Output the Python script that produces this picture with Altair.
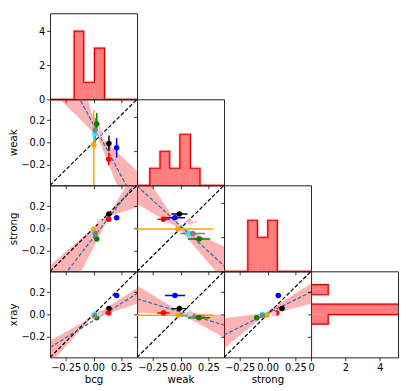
import altair as alt
import pandas as pd

W = 89
H = 88
D = [-0.39, 0.39]
CMAX = [0, 5.05]

# ---------------- points ----------------
colors = ["black", "#0000ff", "#ff0000", "#008000", "#ffa500", "#00ffff", "#808080", "#ffc0cb"]
bcg = [0.138, 0.207, 0.136, 0.029, 0.003, 0.012, 0.016, 0.056]
weak = [-0.010, -0.050, -0.153, 0.166, -0.024, 0.078, 0.110, 0.089]
weak_err_lo = [0.072, 0.090, 0.055, 0.100, 0.450, 0.050, 0.110, 0.060]
weak_err_hi = [0.072, 0.090, 0.055, 0.100, 0.315, 0.050, 0.110, 0.060]
strong = [0.130, 0.096, 0.083, -0.097, -0.006, -0.047, -0.046, 0.057]
xray = [0.052, 0.170, 0.012, -0.030, -0.009, 0.000, -0.014, 0.006]

# ---------------- histograms ----------------
hist_bcg_edges = [-0.174, -0.088, 0.008, 0.099]
hist_bcg_counts = [4, 1, 3]
hist_weak_edges = [-0.276, -0.184, -0.097, -0.006, 0.089, 0.175]
hist_weak_counts = [1, 2, 1, 3, 1]
hist_strong_edges = [-0.177, -0.090, 0.002, 0.088]
hist_strong_counts = [3, 2, 3]
hist_xray_edges = [-0.088, -0.003, 0.092, 0.178, 0.269]
hist_xray_counts = [1, 6, 0, 1]

# ---------------- fitted lines (y at left and right panel edge) ----------------
fit_bcg_weak = [0.89, -0.57]
fit_bcg_strong = [-0.59, 0.425]
fit_bcg_xray = [-0.30, 0.188]
fit_weak_strong = [0.385, -0.34]
fit_weak_xray = [0.141, -0.097]
fit_strong_xray = [-0.187, 0.203]

# ---------------- confidence bands (x, lower, upper) ----------------
band_bcg_weak_x = [-0.39, 0.036, 0.39]
band_bcg_weak_lo = [0.48, 0.05, -0.84]
band_bcg_weak_hi = [1.59, 0.08, -0.26]
band_bcg_strong_x = [-0.39, 0.14, 0.39]
band_bcg_strong_lo = [-0.95, 0.11, 0.19]
band_bcg_strong_hi = [-0.336, 0.13, 0.545]
band_bcg_xray_x = [-0.39, -0.03, 0.39]
band_bcg_xray_lo = [-0.45, -0.045, 0.095]
band_bcg_xray_hi = [-0.24, -0.035, 0.24]
band_weak_strong_x = [-0.39, -0.015, 0.39]
band_weak_strong_lo = [0.22, 0.0, -0.478]
band_weak_strong_hi = [0.584, 0.025, -0.164]
band_weak_xray_x = [-0.39, 0.02, 0.39]
band_weak_xray_lo = [0.017, -0.005, -0.21]
band_weak_xray_hi = [0.262, 0.01, -0.005]
band_strong_xray_x = [-0.39, -0.03, 0.39]
band_strong_xray_lo = [-0.31, -0.01, 0.094]
band_strong_xray_hi = [-0.035, 0.01, 0.28]

vals = {"bcg": bcg, "weak": weak, "strong": strong, "xray": xray}
fits = {
    ("bcg", "weak"): fit_bcg_weak,
    ("bcg", "strong"): fit_bcg_strong,
    ("bcg", "xray"): fit_bcg_xray,
    ("weak", "strong"): fit_weak_strong,
    ("weak", "xray"): fit_weak_xray,
    ("strong", "xray"): fit_strong_xray,
}
bands = {
    ("bcg", "weak"): (band_bcg_weak_x, band_bcg_weak_lo, band_bcg_weak_hi),
    ("bcg", "strong"): (band_bcg_strong_x, band_bcg_strong_lo, band_bcg_strong_hi),
    ("bcg", "xray"): (band_bcg_xray_x, band_bcg_xray_lo, band_bcg_xray_hi),
    ("weak", "strong"): (band_weak_strong_x, band_weak_strong_lo, band_weak_strong_hi),
    ("weak", "xray"): (band_weak_xray_x, band_weak_xray_lo, band_weak_xray_hi),
    ("strong", "xray"): (band_strong_xray_x, band_strong_xray_lo, band_strong_xray_hi),
}
hists = {
    "bcg": (hist_bcg_edges, hist_bcg_counts),
    "weak": (hist_weak_edges, hist_weak_counts),
    "strong": (hist_strong_edges, hist_strong_counts),
    "xray": (hist_xray_edges, hist_xray_counts),
}
order = ["bcg", "weak", "strong", "xray"]


def sc(dom):
    return alt.Scale(domain=dom, nice=False, zero=False)


def make_axis(kind, show, title, orient):
    if kind == "count":
        v, fmt = [0, 2, 4], "d"
    elif orient == "bottom":
        v, fmt = [-0.25, 0.0, 0.25], ".2f"
    else:
        v, fmt = [-0.2, 0.0, 0.2], ".1f"
    if show and title:
        return alt.Axis(values=v, format=fmt, labels=show, labelOverlap=False,
                        labelFlush=False, title=title)
    return alt.Axis(values=v, format=fmt, labels=show, labelOverlap=False,
                    labelFlush=False, title=None)


def scatter(xv, yv, show_x, show_y):
    def X(f):
        return alt.X(f"{f}:Q", scale=sc(D), axis=make_axis("v", show_x, xv, "bottom"))

    def Y(f):
        return alt.Y(f"{f}:Q", scale=sc(D), axis=make_axis("v", show_y, yv, "left"))

    bx, blo, bhi = bands[(xv, yv)]
    band = alt.Chart(pd.DataFrame({"x": bx, "lo": blo, "hi": bhi})).mark_area(
        color="red", opacity=0.3, clip=True
    ).encode(x=X("x"), y=Y("lo"), y2="hi:Q")
    ident = alt.Chart(pd.DataFrame({"x": D, "y": D})).mark_line(
        color="black", strokeDash=[4, 2], strokeWidth=1.2, clip=True
    ).encode(x=X("x"), y=Y("y"))
    fit = alt.Chart(pd.DataFrame({"x": D, "y": fits[(xv, yv)]})).mark_line(
        color="#1f77b4", strokeDash=[4, 2], strokeWidth=1.3, clip=True
    ).encode(x=X("x"), y=Y("y"))
    lo = [w - e for w, e in zip(weak, weak_err_lo)]
    hi = [w + e for w, e in zip(weak, weak_err_hi)]
    pdf = pd.DataFrame({"x": vals[xv], "y": vals[yv], "c": colors, "lo": lo, "hi": hi})
    layers = [band, ident, fit]
    col = alt.Color("c:N", scale=None)
    if xv == "weak":
        layers.append(alt.Chart(pdf).mark_rule(strokeWidth=1.5, clip=True).encode(
            x=X("lo"), x2="hi:Q", y=Y("y"), color=col))
    if yv == "weak":
        layers.append(alt.Chart(pdf).mark_rule(strokeWidth=1.5, clip=True).encode(
            y=Y("lo"), y2="hi:Q", x=X("x"), color=col))
    layers.append(alt.Chart(pdf).mark_circle(size=32, opacity=1).encode(
        x=X("x"), y=Y("y"), color=col))
    return alt.layer(*layers).properties(width=W, height=H)


def hist_v(var, show_y):
    edges, counts = hists[var]
    rdf = pd.DataFrame({"x": edges[:-1], "x2": edges[1:], "c": counts, "z": [0] * len(counts)})
    xs = [D[0], edges[0]]
    ys = [0, 0]
    for i, c in enumerate(counts):
        xs += [edges[i], edges[i + 1]]
        ys += [c, c]
    xs += [edges[-1], D[1]]
    ys += [0, 0]
    odf = pd.DataFrame({"x": xs, "y": ys, "o": list(range(len(xs)))})
    X = alt.X("x:Q", scale=sc(D), axis=make_axis("v", False, None, "bottom"))
    Y = alt.Y("y:Q", scale=sc(CMAX), axis=make_axis("count", show_y, None, "left"))
    rect = alt.Chart(rdf).mark_rect(color="red", opacity=0.5).encode(
        x=X, x2="x2:Q", y=alt.Y("c:Q", scale=sc(CMAX), axis=make_axis("count", show_y, None, "left")),
        y2="z:Q")
    halo = alt.Chart(odf).mark_line(color="red", opacity=0.2, strokeWidth=3).encode(
        x=X, y=Y, order="o:Q")
    line = alt.Chart(odf).mark_line(color="#e00000", strokeWidth=1.2).encode(x=X, y=Y, order="o:Q")
    return alt.layer(rect, halo, line).properties(width=W, height=H)


def hist_h(var):
    edges, counts = hists[var]
    rdf = pd.DataFrame({"y": edges[:-1], "y2": edges[1:], "c": counts, "z": [0] * len(counts)})
    ys = [D[0], edges[0]]
    xs = [0, 0]
    for i, c in enumerate(counts):
        ys += [edges[i], edges[i + 1]]
        xs += [c, c]
    ys += [edges[-1], D[1]]
    xs += [0, 0]
    odf = pd.DataFrame({"x": xs, "y": ys, "o": list(range(len(xs)))})
    X = alt.X("x:Q", scale=sc(CMAX), axis=make_axis("count", True, None, "bottom"))
    Y = alt.Y("y:Q", scale=sc(D), axis=make_axis("v", False, None, "left"))
    rect = alt.Chart(rdf).mark_rect(color="red", opacity=0.5, clip=True).encode(
        y=Y, y2="y2:Q", x=alt.X("c:Q", scale=sc(CMAX), axis=make_axis("count", True, None, "bottom")),
        x2="z:Q")
    halo = alt.Chart(odf).mark_line(color="red", opacity=0.2, strokeWidth=3, clip=True).encode(
        x=X, y=Y, order="o:Q")
    line = alt.Chart(odf).mark_line(color="#e00000", strokeWidth=1.2, clip=True).encode(
        x=X, y=Y, order="o:Q")
    return alt.layer(rect, halo, line).properties(width=W, height=H)


def empty():
    return alt.Chart(pd.DataFrame({"v": [0]})).mark_point(opacity=0).encode(
        x=alt.X("v:Q", axis=None), y=alt.Y("v:Q", axis=None)
    ).properties(width=W, height=H, view=alt.ViewBackground(stroke="transparent"))


cells = []
for r, yv in enumerate(order):
    for c, xv in enumerate(order):
        if c > r:
            cells.append(empty())
        elif c == r:
            if r == 3:
                cells.append(hist_h(xv))
            else:
                cells.append(hist_v(xv, show_y=(c == 0)))
        else:
            cells.append(scatter(xv, yv, show_x=(r == 3), show_y=(c == 0)))

chart = alt.concat(*cells, columns=4, spacing=0, bounds="flush", padding=0).configure_view(
    stroke="#222", strokeWidth=1
).configure_axis(
    labelFont="DejaVu Sans", titleFont="DejaVu Sans", labelFontSize=10, titleFontSize=10.5,
    titleFontWeight="normal", labelColor="black", titleColor="black", tickColor="black",
    tickSize=3.5, tickWidth=0.8, domain=False, grid=False, labelPadding=2, titlePadding=2
)

chart.save("out.html", embed_options={"renderer": "svg", "actions": False})
